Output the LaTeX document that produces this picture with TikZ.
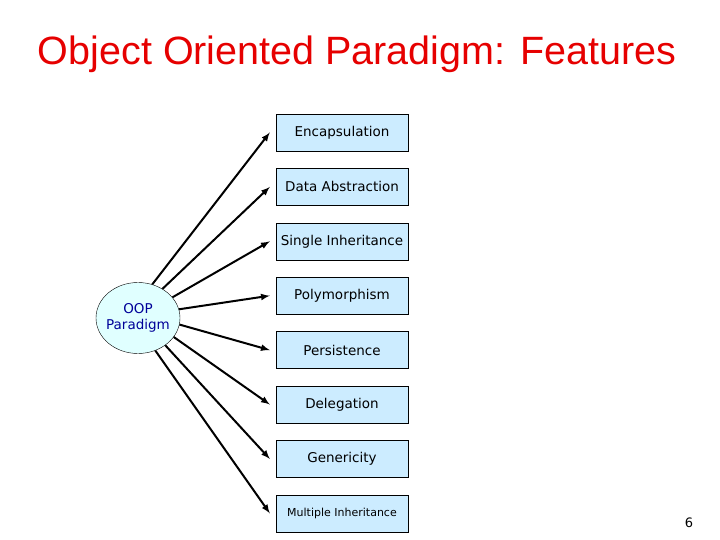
\documentclass[tikz,border=0pt]{standalone}
\usepackage{fontspec}
\setmainfont{DejaVu Sans}
\newfontfamily\titlefont{Liberation Sans}
\usetikzlibrary{positioning,shapes.geometric}
\definecolor{boxblue}{RGB}{204,236,255}
\definecolor{ovalcyan}{RGB}{224,255,255}
\definecolor{titlered}{RGB}{230,0,0}
\begin{document}
\begin{tikzpicture}[
      x=1pt, y=-1pt,
      node distance=17pt,
      feature/.style={
        draw,
        fill=boxblue,
        minimum width=132pt,
        minimum height=37pt,
        inner sep=1pt,
        font=\fontsize{13.5}{16}\selectfont
      },
      arr/.style={-latex, line width=2pt}
    ]
    \useasboundingbox (0,0) rectangle (720,540);
    \node[titlered, font=\titlefont\fontsize{39.5}{44}\selectfont] (title) at (357,54) {Object Oriented Paradigm: Features};
    \node[draw, ellipse, fill=ovalcyan, minimum width=84pt, minimum height=71pt, inner sep=-4pt,
          text=blue!60!black, align=center, font=\fontsize{13.5}{16}\selectfont] (oop) at (138,318) {OOP\\Paradigm};
    \node[feature] (enc) at (342,132.5) {Encapsulation};
    \node[feature, below=of enc] (abs) {Data Abstraction};
    \node[feature, below=of abs] (sin) {Single Inheritance};
    \node[feature, below=of sin] (pol) {Polymorphism};
    \node[feature, below=of pol] (per) {Persistence};
    \node[feature, below=of per] (del) {Delegation};
    \node[feature, below=of del] (gen) {Genericity};
    \node[feature, below=of gen, font=\fontsize{11}{13}\selectfont] (mul) {Multiple Inheritance};
    \node[font=\fontsize{13}{15}\selectfont] (page) at (689,523) {6};
    \draw[arr] (oop.67) -- ([xshift=-6pt]enc.west);
    \draw[arr] (oop.50) -- ([xshift=-6pt]abs.west);
    \draw[arr] (oop.31) -- ([xshift=-6pt]sin.west);
    \draw[arr] (oop.12) -- ([xshift=-6pt]pol.west);
    \draw[arr] (oop.-9) -- ([xshift=-6pt]per.west);
    \draw[arr] (oop.-28) -- ([xshift=-6pt]del.west);
    \draw[arr] (oop.-45) -- ([xshift=-6pt]gen.west);
    \draw[arr] (oop.-62) -- ([xshift=-6pt]mul.west);
\end{tikzpicture}
\end{document}
